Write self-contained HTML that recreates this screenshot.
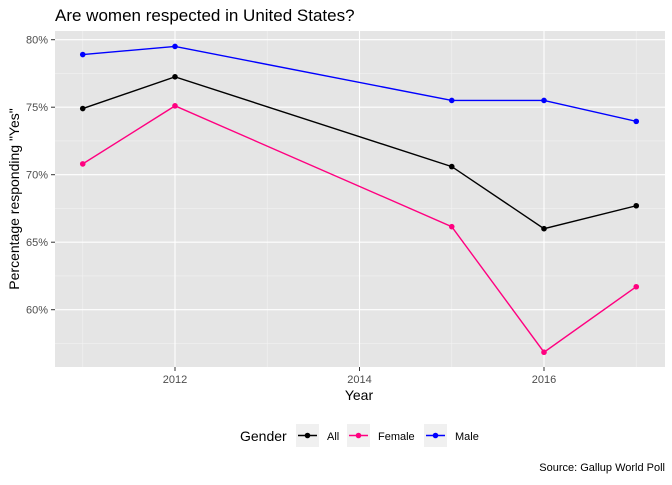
<!DOCTYPE html>
<html><head><meta charset="utf-8"><style>
body{margin:0;background:#fff;font-family:"Liberation Sans",sans-serif}
</style></head><body>
<svg width="672" height="480" xmlns="http://www.w3.org/2000/svg" font-family="Liberation Sans, sans-serif">
<text x="55" y="21" font-size="17" fill="#000">Are women respected in United States?</text>
<rect x="55" y="31" width="610" height="336" fill="#e5e5e5"/>
<g id="grid"></g>
<g id="axes"></g>
<g id="series"></g>
<text x="359" y="400" font-size="14" text-anchor="middle">Year</text>
<text transform="translate(19,199) rotate(-90)" font-size="14" text-anchor="middle">Percentage responding "Yes"</text>
<g>
<text x="240" y="441" font-size="14">Gender</text>
<g id="legend"></g>
</g>
<text x="665" y="471" font-size="11" text-anchor="end">Source: Gallup World Poll</text>
</svg>
<script>
const years=[2011,2012,2015,2016,2017];
const allVals=[74.9,77.25,70.6,66.0,67.7];
const femaleVals=[70.8,75.1,66.15,56.85,61.7];
const maleVals=[78.9,79.5,75.5,75.5,73.95];
const xTicks=[2012,2014,2016];
const yTicks=[60,65,70,75,80];
const NS="http://www.w3.org/2000/svg";
const PB=367;
function x(v){return 175+(v-2012)*92.25;}
function y(v){return 39.7+(80-v)*13.5;}
function mk(t,a,p){const e=document.createElementNS(NS,t);for(const k in a)e.setAttribute(k,a[k]);p.appendChild(e);return e;}
const grid=document.getElementById('grid'),axes=document.getElementById('axes');
for(const m of [57.5,62.5,67.5,72.5,77.5]){
 const ml=mk('line',{x1:55,x2:665,y1:y(m),y2:y(m),stroke:'#f2f2f2','stroke-width':0.6},grid);
 
 
}
for(const v of [2011,2013,2015,2017]){const ml=mk('line',{x1:x(v),x2:x(v),y1:31,y2:PB,stroke:'#f2f2f2','stroke-width':0.6},grid);
 
 }
for(const v of yTicks){
 const l=mk('line',{x1:55,x2:665,y1:y(v),y2:y(v),stroke:'#fff','stroke-width':1.1},grid);
 
 
 mk('line',{x1:51,x2:55,y1:y(v),y2:y(v),stroke:'#333'},axes);
 const t=mk('text',{x:48,y:y(v)+4,'font-size':11,fill:'#4d4d4d','text-anchor':'end'},axes);
 t.textContent=v+'%';
 
 
}
for(const v of xTicks){
 const l=mk('line',{x1:x(v),x2:x(v),y1:31,y2:PB,stroke:'#fff','stroke-width':1.1},grid);
 
 
 mk('line',{x1:x(v),x2:x(v),y1:PB,y2:PB+4,stroke:'#333'},axes);
 const t=mk('text',{x:x(v),y:PB+16,'font-size':11,fill:'#4d4d4d','text-anchor':'middle'},axes);
 t.textContent=v;
 
 
}
const ser=document.getElementById('series');
const defs=[['all',allVals,'#000'],['female',femaleVals,'#ff0080'],['male',maleVals,'#0000ff']];
for(const [n,vals,c] of defs){
 const pl=mk('polyline',{points:years.map((yr,i)=>x(yr)+','+y(vals[i])).join(' '),fill:'none',stroke:c,'stroke-width':1.4},ser);
 
 
 years.forEach((yr,i)=>{const p=mk('circle',{cx:x(yr),cy:y(vals[i]),r:2.8,fill:c},ser);
 
 });
}
const lg=document.getElementById('legend');
const items=[['All','#000',296],['Female','#ff0080',347],['Male','#0000ff',424]];
for(const [lab,c,kx] of items){
 const g=mk('g',{},lg);
 
 
 mk('rect',{x:kx,y:424,width:23,height:23,fill:'#f0f0f0'},g);
 mk('line',{x1:kx+2,x2:kx+21,y1:435.5,y2:435.5,stroke:c,'stroke-width':1.4},g);
 mk('circle',{cx:kx+11.5,cy:435.5,r:2.8,fill:c},g);
 const t=mk('text',{x:kx+31,y:440,'font-size':11},g);t.textContent=lab;
}
</script>
</body></html>
